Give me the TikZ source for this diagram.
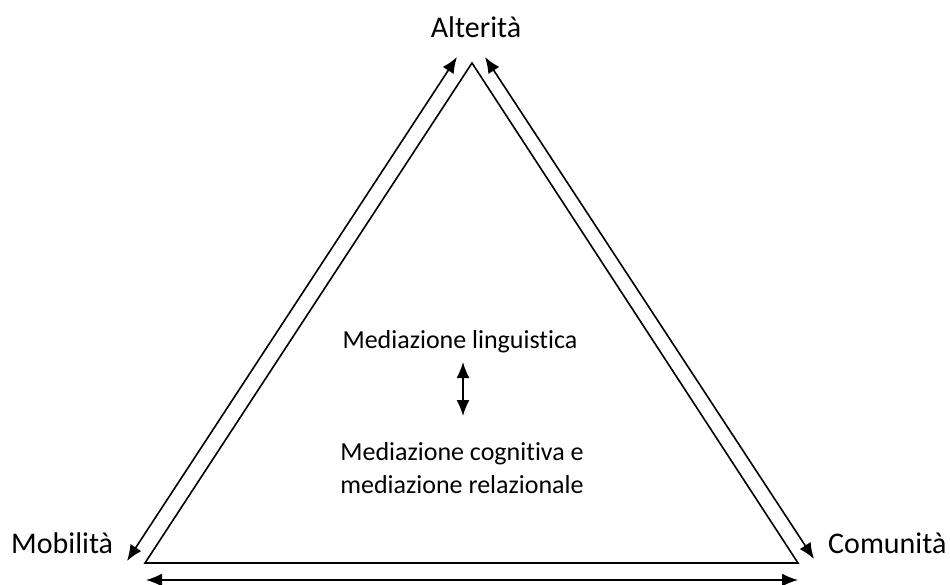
\documentclass[tikz,border=0pt]{standalone}
\usepackage{fontspec}
\setmainfont{Carlito}[Ligatures=NoCommon]
\usetikzlibrary{arrows.meta,
                positioning}
\tikzset{
        side/.style={line width=1.6pt, line join=miter},
        dblarrow/.style={{Latex[length=16pt,width=13pt]}-{Latex[length=16pt,width=13pt]}, line width=1.6pt},
        corner/.style={font=\fontsize{30}{36}\selectfont, inner sep=0pt, anchor=base},
        midtext/.style={font=\fontsize{26}{33}\selectfont, inner sep=0pt, align=center, anchor=base},
 }
\begin{document}
\begin{tikzpicture}[x=1pt, y=-1pt]
    \useasboundingbox (0,0) rectangle (950,585);

    % vertices of the triangle
    \coordinate (top) at (472,63);
    \coordinate (bl) at (145,563);
    \coordinate (br) at (798,563);
    \draw[side] (top) -- (bl) -- (br) -- cycle;

    % corner labels
    \node[corner] (alt) at (476,38) {Alterità};
    \node[corner, anchor=base west] (mob) at (11,553) {Mobilità};
    \node[corner, anchor=base west] (com) at (828,553) {Comunità};

    % ends of the outer arrows
    \coordinate (l1) at (127,561);
    \coordinate (l2) at (457,57);
    \coordinate (r1) at (485,57);
    \coordinate (r2) at (814,559);
    \coordinate (b1) at (146,580);
    \coordinate (b2) at (798,580);
    \draw[dblarrow] (l1) -- (l2);
    \draw[dblarrow] (r1) -- (r2);
    \draw[dblarrow] (b1) -- (b2);

    % inside
    \node[midtext] (ling) at (460,348) {Mediazione linguistica};
    \node[midtext] (cogn) at (462,493) {Mediazione cognitiva e\\mediazione relazionale};
    \coordinate (m1) at (463,362);
    \coordinate (m2) at (463,416);
    \draw[dblarrow] (m1) -- (m2);
\end{tikzpicture}
\end{document}
